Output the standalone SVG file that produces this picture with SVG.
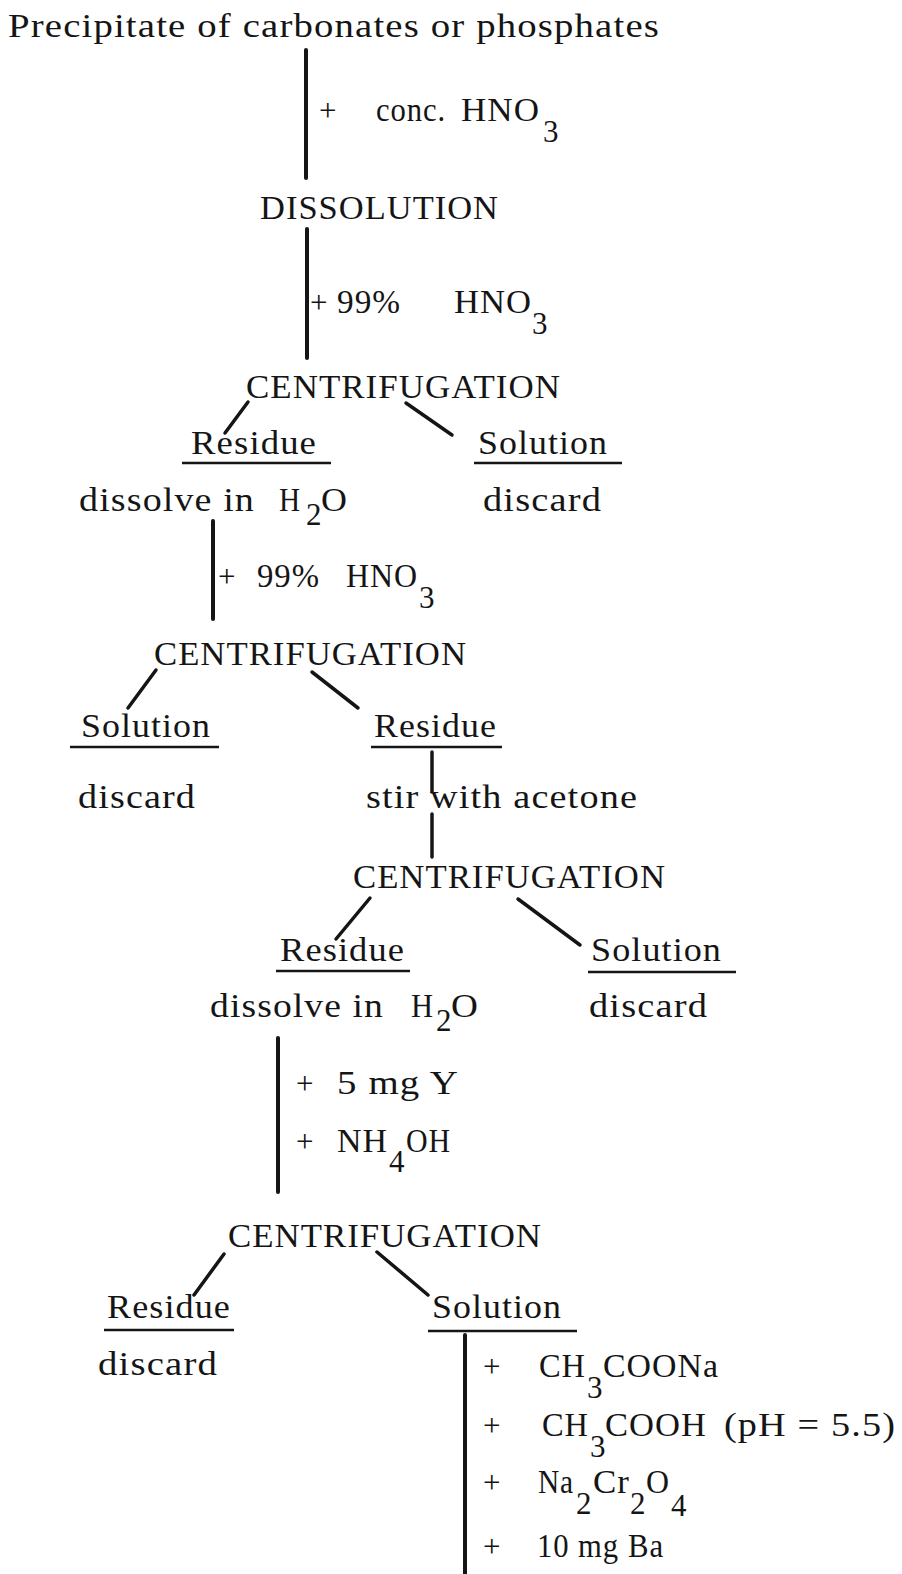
<svg xmlns="http://www.w3.org/2000/svg" width="902" height="1574" viewBox="0 0 902 1574">
<style>
text{font-family:"Liberation Serif","Times New Roman",serif;font-size:34px;letter-spacing:1px;fill:#151515}
.p{font-size:31px;letter-spacing:0}
.s{font-size:31px;letter-spacing:0}
.c line{stroke:#151515;stroke-linecap:round}
.v{stroke-width:4}
.d{stroke-width:3.5}
.u line{stroke:#151515;stroke-width:2.5}
</style>
<rect width="902" height="1574" fill="#fff"/>
<g class="c" id="connectors">
<line class="v" x1="306" y1="50" x2="306" y2="178"/>
<line class="v" x1="307" y1="229" x2="307" y2="358"/>
<line class="d" x1="248" y1="402" x2="225" y2="433"/>
<line class="d" x1="406" y1="403" x2="452" y2="435"/>
<line class="v" x1="213" y1="521" x2="213" y2="619"/>
<line class="d" x1="156" y1="670" x2="128" y2="708"/>
<line class="d" x1="312" y1="672" x2="358" y2="708"/>
<line class="d" x1="432" y1="752" x2="432" y2="792"/>
<line class="d" x1="432" y1="814" x2="432" y2="857"/>
<line class="d" x1="370" y1="898" x2="336" y2="939"/>
<line class="d" x1="518" y1="899" x2="580" y2="945"/>
<line class="v" x1="278" y1="1038" x2="278" y2="1192"/>
<line class="d" x1="224" y1="1254" x2="194" y2="1295"/>
<line class="d" x1="377" y1="1252" x2="428" y2="1295"/>
<line class="v" x1="465" y1="1335" x2="465" y2="1574"/>
</g>
<g id="start"><text x="8" y="37" textLength="652" lengthAdjust="spacingAndGlyphs">Precipitate of carbonates or phosphates</text></g>
<g id="reagent1"><text class="p" x="319" y="121">+</text><text x="376" y="121" textLength="70" lengthAdjust="spacingAndGlyphs">conc.</text><text x="461" y="121" textLength="79" lengthAdjust="spacingAndGlyphs">HNO</text><text class="s" x="543" y="142">3</text></g>
<g id="dissolution"><text x="260" y="219" textLength="239" lengthAdjust="spacingAndGlyphs">DISSOLUTION</text></g>
<g id="reagent2"><text class="p" x="310" y="313">+</text><text x="337" y="313" textLength="64" lengthAdjust="spacingAndGlyphs">99%</text><text x="454" y="313" textLength="78" lengthAdjust="spacingAndGlyphs">HNO</text><text class="s" x="532" y="334">3</text></g>
<g id="centrifugation1"><text x="246" y="398" textLength="315" lengthAdjust="spacingAndGlyphs">CENTRIFUGATION</text></g>
<g id="residue1" class="u"><text x="191" y="454" textLength="126" lengthAdjust="spacingAndGlyphs">Residue</text><line x1="182" y1="463" x2="331" y2="463"/><text x="79" y="511" textLength="176" lengthAdjust="spacingAndGlyphs">dissolve in</text><text x="279" y="511" textLength="22" lengthAdjust="spacingAndGlyphs">H</text><text class="s" x="306" y="525">2</text><text x="321" y="511" textLength="27" lengthAdjust="spacingAndGlyphs">O</text></g>
<g id="solution1" class="u"><text x="478" y="454" textLength="130" lengthAdjust="spacingAndGlyphs">Solution</text><line x1="474" y1="463" x2="622" y2="463"/><text x="483" y="511" textLength="119" lengthAdjust="spacingAndGlyphs">discard</text></g>
<g id="reagent3"><text class="p" x="218" y="587">+</text><text x="257" y="587" textLength="63" lengthAdjust="spacingAndGlyphs">99%</text><text x="346" y="587" textLength="72" lengthAdjust="spacingAndGlyphs">HNO</text><text class="s" x="419" y="608">3</text></g>
<g id="centrifugation2"><text x="154" y="665" textLength="313" lengthAdjust="spacingAndGlyphs">CENTRIFUGATION</text></g>
<g id="solution2" class="u"><text x="81" y="737" textLength="130" lengthAdjust="spacingAndGlyphs">Solution</text><line x1="70" y1="747" x2="219" y2="747"/><text x="78" y="808" textLength="118" lengthAdjust="spacingAndGlyphs">discard</text></g>
<g id="residue2" class="u"><text x="374" y="737" textLength="123" lengthAdjust="spacingAndGlyphs">Residue</text><line x1="371" y1="747" x2="502" y2="747"/><text x="366" y="808" textLength="272" lengthAdjust="spacingAndGlyphs">stir with acetone</text></g>
<g id="centrifugation3"><text x="353" y="888" textLength="313" lengthAdjust="spacingAndGlyphs">CENTRIFUGATION</text></g>
<g id="residue3" class="u"><text x="280" y="961" textLength="125" lengthAdjust="spacingAndGlyphs">Residue</text><line x1="276" y1="971" x2="410" y2="971"/><text x="210" y="1017" textLength="174" lengthAdjust="spacingAndGlyphs">dissolve in</text><text x="411" y="1017" textLength="23" lengthAdjust="spacingAndGlyphs">H</text><text class="s" x="436" y="1031">2</text><text x="451" y="1017" textLength="28" lengthAdjust="spacingAndGlyphs">O</text></g>
<g id="solution3" class="u"><text x="591" y="961" textLength="131" lengthAdjust="spacingAndGlyphs">Solution</text><line x1="588" y1="972" x2="736" y2="972"/><text x="589" y="1017" textLength="119" lengthAdjust="spacingAndGlyphs">discard</text></g>
<g id="reagent4"><text class="p" x="296" y="1094">+</text><text x="337" y="1094" textLength="122" lengthAdjust="spacingAndGlyphs">5 mg Y</text><text class="p" x="296" y="1152">+</text><text x="337" y="1152" textLength="51" lengthAdjust="spacingAndGlyphs">NH</text><text class="s" x="389" y="1172">4</text><text x="406" y="1152" textLength="45" lengthAdjust="spacingAndGlyphs">OH</text></g>
<g id="centrifugation4"><text x="228" y="1247" textLength="314" lengthAdjust="spacingAndGlyphs">CENTRIFUGATION</text></g>
<g id="residue4" class="u"><text x="107" y="1318" textLength="124" lengthAdjust="spacingAndGlyphs">Residue</text><line x1="104" y1="1330" x2="234" y2="1330"/><text x="98" y="1375" textLength="120" lengthAdjust="spacingAndGlyphs">discard</text></g>
<g id="solution4" class="u"><text x="432" y="1318" textLength="130" lengthAdjust="spacingAndGlyphs">Solution</text><line x1="428" y1="1331" x2="577" y2="1331"/></g>
<g id="reagent5">
<text class="p" x="483" y="1377">+</text><text x="539" y="1377" textLength="47" lengthAdjust="spacingAndGlyphs">CH</text><text class="s" x="587" y="1398">3</text><text x="603" y="1377" textLength="116" lengthAdjust="spacingAndGlyphs">COONa</text>
<text class="p" x="483" y="1436">+</text><text x="542" y="1436" textLength="47" lengthAdjust="spacingAndGlyphs">CH</text><text class="s" x="590" y="1457">3</text><text x="605" y="1436" textLength="102" lengthAdjust="spacingAndGlyphs">COOH</text><text x="724" y="1436" textLength="172" lengthAdjust="spacingAndGlyphs">(pH = 5.5)</text>
<text class="p" x="483" y="1493">+</text><text x="538" y="1493" textLength="36" lengthAdjust="spacingAndGlyphs">Na</text><text class="s" x="576" y="1514">2</text><text x="593" y="1493" textLength="37" lengthAdjust="spacingAndGlyphs">Cr</text><text class="s" x="630" y="1514">2</text><text x="646" y="1493" textLength="24" lengthAdjust="spacingAndGlyphs">O</text><text class="s" x="671" y="1516">4</text>
<text class="p" x="483" y="1557">+</text><text x="537" y="1557" textLength="82" lengthAdjust="spacingAndGlyphs">10 mg</text><text x="628" y="1557" textLength="36" lengthAdjust="spacingAndGlyphs">Ba</text>
</g>
</svg>
